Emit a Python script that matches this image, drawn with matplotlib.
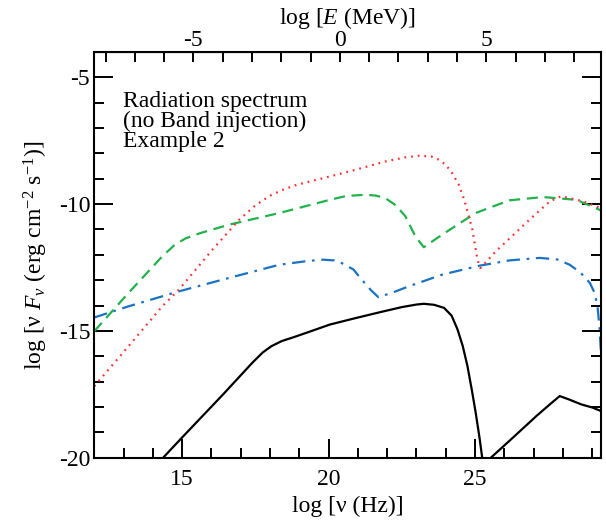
import numpy as np
import matplotlib.pyplot as plt
from matplotlib.ticker import MultipleLocator, FixedLocator

plt.rcParams['font.family'] = 'Liberation Serif'
plt.rcParams['mathtext.fontset'] = 'custom'
plt.rcParams['mathtext.rm'] = 'Liberation Serif'
plt.rcParams['mathtext.it'] = 'Liberation Serif:italic'
plt.rcParams['axes.unicode_minus'] = False

# log nu (Hz) -> log E (MeV)
log_h_mev = 20.383

# black solid (two pieces)
black1_x = [14.35, 15.0, 15.7, 16.4, 17.0, 17.4, 17.75, 18.05, 18.4, 18.8, 19.3, 20.04, 20.9, 21.76, 22.5,
            23.0, 23.25, 23.6, 23.94, 24.2, 24.40, 24.58, 24.74, 24.9, 25.02, 25.15, 25.25]
black1_y = [-20.0, -19.2, -18.35, -17.5, -16.75, -16.25, -15.85, -15.6, -15.4, -15.25, -15.05, -14.75,
            -14.5, -14.26, -14.06, -13.96, -13.93, -13.97, -14.09, -14.4, -14.94, -15.6, -16.39, -17.4,
            -18.22, -19.2, -20.06]
black2_x = [25.54, 26.3, 27.1, 27.6, 27.89, 28.2, 28.63, 29.0, 29.3]
black2_y = [-20.0, -19.2, -18.35, -17.85, -17.57, -17.7, -17.9, -18.02, -18.16]

# blue dash-dot
blue_x = [12.0, 13.17, 14.89, 16.6, 18.32, 19.3, 19.81, 20.2, 20.44, 20.85, 21.13, 21.45, 21.70, 22.2,
          22.74, 23.88, 25.14, 26.17, 27.2, 27.8, 28.23, 28.6, 28.92, 29.08, 29.18, 29.25, 29.3]
blue_y = [-14.47, -14.03, -13.44, -12.91, -12.39, -12.24, -12.19, -12.22, -12.32, -12.58, -12.98, -13.4,
          -13.67, -13.48, -13.24, -12.78, -12.43, -12.22, -12.12, -12.18, -12.39, -12.7, -13.11, -13.5,
          -14.03, -14.9, -15.9]

# green dashed
green_x = [12.0, 13.17, 14.32, 14.75, 15.12, 15.6, 16.6, 18.32, 20.04, 20.6, 21.24, 21.6, 21.93, 22.3,
           22.62, 22.96, 23.25, 23.5, 23.88, 25.02, 26.17, 27.32, 28.46, 29.3]
green_y = [-15.01, -13.5, -12.06, -11.6, -11.35, -11.15, -10.81, -10.35, -9.83, -9.68, -9.63, -9.66,
           -9.76, -10.05, -10.48, -11.27, -11.7, -11.5, -11.2, -10.35, -9.85, -9.72, -9.83, -10.25]

# red dotted
red_x = [12.0, 13.17, 14.32, 14.89, 16.03, 16.95, 17.5, 17.98, 18.4, 18.9, 20.04, 20.9, 21.93, 22.6,
         23.08, 23.5, 23.77, 24.0, 24.22, 24.45, 24.63, 24.91, 25.08, 25.18, 25.71, 26.74, 27.55, 27.94,
         28.69, 29.3]
red_y = [-17.18, -15.6, -14.03, -13.37, -11.8, -10.61, -10.05, -9.68, -9.45, -9.24, -8.91, -8.65, -8.32,
         -8.16, -8.09, -8.12, -8.25, -8.45, -8.78, -9.25, -9.83, -11.01, -12.19, -12.52, -11.86, -10.74,
         -9.89, -9.69, -9.89, -10.16]

fig = plt.figure(figsize=(6.06, 5.21), dpi=100)
ax = fig.add_axes([0.1556, 0.1215, 0.8362, 0.7787])

ax.plot(black1_x, black1_y, color='black', lw=1.6)
ax.plot(black2_x, black2_y, color='black', lw=1.6)
ax.plot(blue_x, blue_y, color='#1a72c4', lw=1.6, dashes=(6, 3, 1.2, 3))
ax.plot(green_x, green_y, color='#22b24c', lw=1.6, dashes=(5, 3))
ax.plot(red_x, red_y, color='#ff3030', lw=1.6, dashes=(0.8, 2.2))

ax.set_xlim(12, 29.3)
ax.set_ylim(-20, -4)
ax.xaxis.set_major_locator(MultipleLocator(5))
ax.xaxis.set_minor_locator(MultipleLocator(1))
ax.yaxis.set_major_locator(MultipleLocator(5))
ax.yaxis.set_minor_locator(MultipleLocator(1))
ax.tick_params(which='both', direction='in', bottom=True, left=True, right=True, top=False,
               labelsize=17, width=1.4)
ax.tick_params(axis='x', pad=8)
ax.tick_params(axis='y', pad=3)
ax.tick_params(which='major', length=14)
ax.tick_params(which='minor', length=7)
for s in ax.spines.values():
    s.set_linewidth(1.5)

ax.set_xlabel('log [ν (Hz)]', fontsize=17, labelpad=4)
ax.set_ylabel(r'log [ν $F_\nu$ (erg cm$^{-2}$ s$^{-1}$)]', fontsize=17, labelpad=6)

top = ax.secondary_xaxis('top', functions=(lambda x: x - log_h_mev, lambda e: e + log_h_mev))
top.xaxis.set_major_locator(FixedLocator([-5, 0, 5]))
top.xaxis.set_minor_locator(FixedLocator(list(range(-8, 9))))
top.tick_params(which='both', direction='in', labelsize=17, width=1.4, pad=1)
top.tick_params(which='major', length=7)
top.tick_params(which='minor', length=7)
top.set_xlabel(r'log [$E$ (MeV)]', fontsize=17, labelpad=4)

ax.text(0.057, 0.905, 'Radiation spectrum\n(no Band injection)\nExample 2', transform=ax.transAxes,
        fontsize=17, va='top', ha='left', linespacing=0.95)

fig.savefig('out.png', dpi=100)
